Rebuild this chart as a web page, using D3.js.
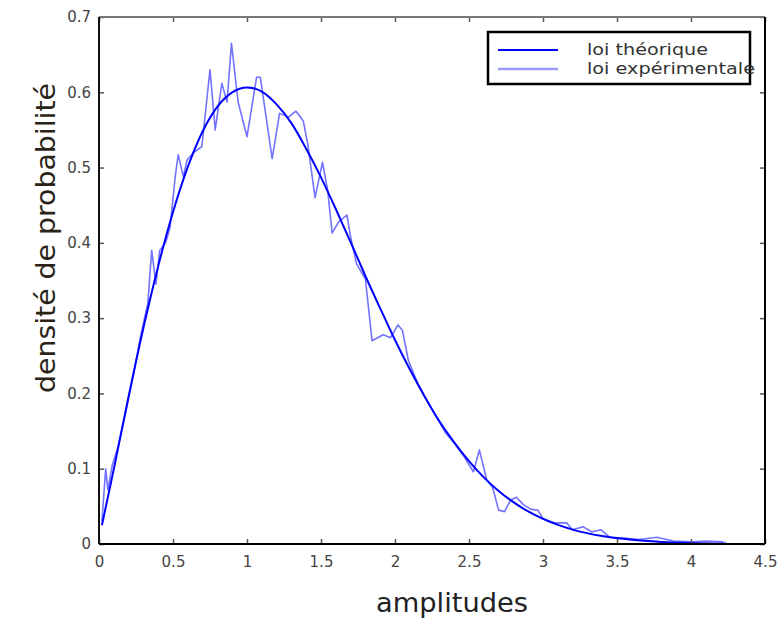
<!DOCTYPE html>
<html>
<head>
<meta charset="utf-8">
<script src="https://cdn.jsdelivr.net/npm/d3@7"></script>
<style>
  html, body { margin: 0; padding: 0; background: #fff; }
  svg { display: block; }
</style>
</head>
<body>
<svg id="chart" width="781" height="622"></svg>
<script>
// Theoretical density (Rayleigh law) sampled along the amplitude axis
const theoX = [0.02, 0.1, 0.2, 0.3, 0.4, 0.5, 0.6, 0.7, 0.8, 0.9, 1.0, 1.1, 1.2, 1.3, 1.4,
  1.5, 1.6, 1.7, 1.8, 1.9, 2.0, 2.1, 2.2, 2.3, 2.4, 2.5, 2.6, 2.7, 2.8, 2.9, 3.0,
  3.2, 3.4, 3.6, 3.8, 4.0, 4.24];
const theoY = [0.025, 0.0995, 0.196, 0.287, 0.369, 0.441, 0.501, 0.548, 0.581, 0.600, 0.6065, 0.601, 0.584, 0.559, 0.525,
  0.487, 0.445, 0.401, 0.356, 0.313, 0.271, 0.232, 0.196, 0.163, 0.135, 0.110, 0.0885, 0.0705, 0.0556, 0.0432, 0.0333,
  0.0191, 0.0105, 0.0055, 0.0028, 0.0013, 0.0005];

// Experimental density (histogram of measured amplitudes)
const expX = [0.02, 0.045, 0.06, 0.09, 0.13, 0.18, 0.23, 0.28, 0.33, 0.356, 0.385, 0.41, 0.45, 0.48, 0.515, 0.535,
  0.57, 0.595, 0.64, 0.695, 0.75, 0.785, 0.83, 0.865, 0.895, 0.94, 1.0, 1.065, 1.09, 1.17, 1.22, 1.28,
  1.33, 1.38, 1.41, 1.46, 1.51, 1.545, 1.575, 1.62, 1.675, 1.70, 1.74, 1.80, 1.845, 1.92, 1.97, 2.02,
  2.05, 2.09, 2.15, 2.2, 2.27, 2.34, 2.4, 2.46, 2.53, 2.57, 2.62, 2.66, 2.70, 2.74, 2.78, 2.82,
  2.87, 2.92, 2.965, 3.0, 3.08, 3.16, 3.2, 3.27, 3.33, 3.39, 3.45, 3.55, 3.65, 3.77, 3.88, 4.0, 4.1, 4.22];
const expY = [0.030, 0.100, 0.072, 0.105, 0.130, 0.175, 0.222, 0.275, 0.320, 0.390, 0.345, 0.390, 0.400, 0.420, 0.488, 0.517,
  0.488, 0.510, 0.520, 0.528, 0.630, 0.550, 0.612, 0.587, 0.665, 0.587, 0.541, 0.620, 0.620, 0.512, 0.572, 0.567,
  0.575, 0.562, 0.532, 0.460, 0.507, 0.470, 0.413, 0.428, 0.437, 0.408, 0.372, 0.352, 0.270, 0.278, 0.274, 0.291,
  0.284, 0.244, 0.215, 0.196, 0.172, 0.148, 0.134, 0.118, 0.096, 0.125, 0.085, 0.075, 0.045, 0.043, 0.058, 0.062,
  0.052, 0.046, 0.045, 0.034, 0.028, 0.028, 0.019, 0.023, 0.016, 0.019, 0.009, 0.008, 0.006, 0.009, 0.004, 0.003, 0.004, 0.003];

const xTicks = [0, 0.5, 1, 1.5, 2, 2.5, 3, 3.5, 4, 4.5];
const xTickLabels = ["0", "0.5", "1", "1.5", "2", "2.5", "3", "3.5", "4", "4.5"];
const yTicks = [0, 0.1, 0.2, 0.3, 0.4, 0.5, 0.6, 0.7];
const yTickLabels = ["0", "0.1", "0.2", "0.3", "0.4", "0.5", "0.6", "0.7"];
const legendLabels = ["loi théorique", "loi expérimentale"];

const svg = d3.select("#chart");
const plotLeft = 99, plotRight = 765, plotTop = 17, plotBottom = 544;

const x = d3.scaleLinear().domain([0, 4.5]).range([plotLeft, plotRight]);
const y = d3.scaleLinear().domain([0, 0.7]).range([plotBottom, plotTop]);

const theoColor = "#0000ff";
const expColor = "#5a5aff";

// Curves
const line = d3.line().x(d => x(d[0])).y(d => y(d[1]));
const expData = expX.map((v, i) => [v, expY[i]]);
const theoData = theoX.map((v, i) => [v, theoY[i]]);

svg.append("path").datum(expData)
  .attr("d", line).attr("fill", "none")
  .attr("stroke", expColor).attr("stroke-width", 1.6).attr("stroke-opacity", 0.85)
  .attr("stroke-linejoin", "round");

svg.append("path").datum(theoData)
  .attr("d", d3.line().curve(d3.curveMonotoneX).x(d => x(d[0])).y(d => y(d[1])))
  .attr("fill", "none")
  .attr("stroke", theoColor).attr("stroke-width", 2);

// Axes with inward ticks on all four sides
const fmtX = (d, i) => xTickLabels[i];
const fmtY = (d, i) => yTickLabels[i];
const tickLen = 5;

const axB = svg.append("g").attr("transform", `translate(0,${plotBottom})`)
  .call(d3.axisBottom(x).tickValues(xTicks).tickFormat(fmtX).tickSizeInner(-tickLen).tickSizeOuter(0).tickPadding(12));
const axT = svg.append("g").attr("transform", `translate(0,${plotTop})`)
  .call(d3.axisTop(x).tickValues(xTicks).tickFormat("").tickSizeInner(-tickLen).tickSizeOuter(0));
const axL = svg.append("g").attr("transform", `translate(${plotLeft},0)`)
  .call(d3.axisLeft(y).tickValues(yTicks).tickFormat(fmtY).tickSizeInner(-tickLen).tickSizeOuter(0).tickPadding(8));
const axR = svg.append("g").attr("transform", `translate(${plotRight},0)`)
  .call(d3.axisRight(y).tickValues(yTicks).tickFormat("").tickSizeInner(-tickLen).tickSizeOuter(0));

[axB, axT, axL, axR].forEach(g => {
  g.select(".domain").remove();
  g.selectAll(".tick line").attr("stroke", "#555").attr("stroke-width", 1.5);
  g.selectAll(".tick text")
    .attr("font-family", "DejaVu Sans, sans-serif")
    .attr("font-size", 15).attr("fill", "#444");
});

// Frame
svg.append("line").attr("x1", plotLeft).attr("x2", plotRight).attr("y1", plotTop).attr("y2", plotTop)
  .attr("stroke", "#777").attr("stroke-width", 2);
svg.append("line").attr("x1", plotLeft).attr("x2", plotRight).attr("y1", plotBottom).attr("y2", plotBottom)
  .attr("stroke", "#000").attr("stroke-width", 2);
svg.append("line").attr("x1", plotLeft).attr("x2", plotLeft).attr("y1", plotTop).attr("y2", plotBottom)
  .attr("stroke", "#111").attr("stroke-width", 2);
svg.append("line").attr("x1", plotRight).attr("x2", plotRight).attr("y1", plotTop).attr("y2", plotBottom)
  .attr("stroke", "#000").attr("stroke-width", 2);

// Axis titles
svg.append("text")
  .attr("x", 452).attr("y", 612)
  .attr("text-anchor", "middle")
  .attr("font-family", "DejaVu Sans, sans-serif").attr("font-size", 26)
  .attr("fill", "#222")
  .attr("textLength", 152).attr("lengthAdjust", "spacingAndGlyphs")
  .text("amplitudes");

svg.append("text")
  .attr("transform", "translate(55,238) rotate(-90)")
  .attr("text-anchor", "middle")
  .attr("font-family", "DejaVu Sans, sans-serif").attr("font-size", 26)
  .attr("fill", "#2a2418")
  .attr("textLength", 310).attr("lengthAdjust", "spacingAndGlyphs")
  .text("densité de probabilité");

// Legend
const lg = svg.append("g");
lg.append("rect").attr("x", 488).attr("y", 32).attr("width", 262).attr("height", 52)
  .attr("fill", "#fff").attr("stroke", "#000").attr("stroke-width", 2.5);

const legendRows = [
  { label: legendLabels[0], color: theoColor, width: 2, opacity: 1, len: 121 },
  { label: legendLabels[1], color: "#9a9aff", width: 2.5, opacity: 1, len: 168 }
];
legendRows.forEach((r, i) => {
  const cy = 50 + i * 19;
  lg.append("line").attr("x1", 498).attr("x2", 558).attr("y1", cy).attr("y2", cy)
    .attr("stroke", r.color).attr("stroke-width", r.width).attr("stroke-opacity", r.opacity);
  lg.append("text").attr("x", 587).attr("y", cy).attr("dy", "0.35em")
    .attr("font-family", "DejaVu Sans, sans-serif").attr("font-size", 15)
    .attr("fill", "#333")
    .attr("textLength", r.len).attr("lengthAdjust", "spacingAndGlyphs")
    .text(r.label);
});
</script>
</body>
</html>
